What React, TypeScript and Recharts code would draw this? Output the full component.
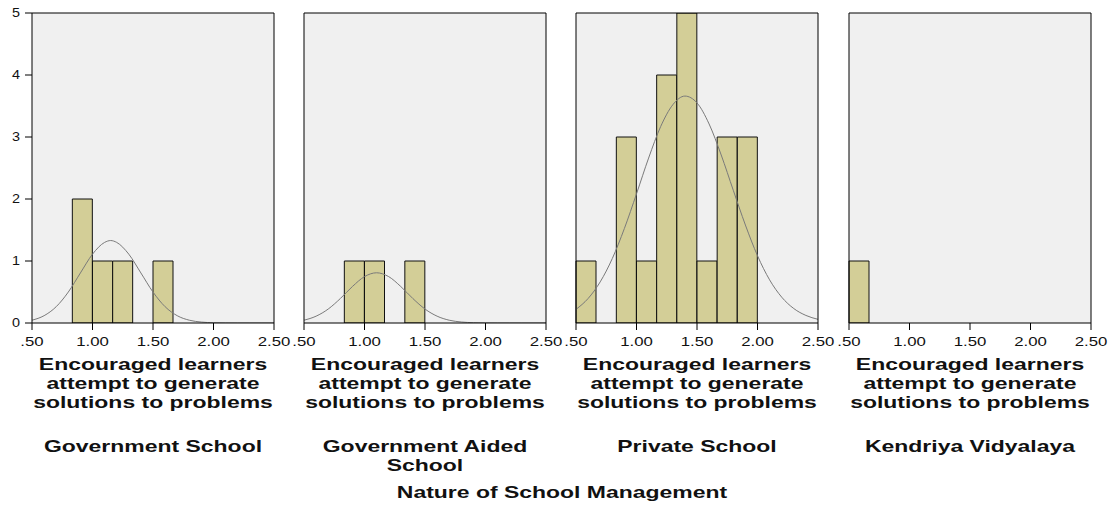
import React from "react";
import { ComposedChart, Bar, Line, XAxis, YAxis, CartesianGrid } from "recharts";

// ---- Data ----
const binLabels = [
  ".50-.67", ".67-.83", ".83-1.00", "1.00-1.17", "1.17-1.33", "1.33-1.50",
  "1.50-1.67", "1.67-1.83", "1.83-2.00", "2.00-2.17", "2.17-2.33", "2.33-2.50",
];
const govCounts = [0, 0, 2, 1, 1, 0, 1, 0, 0, 0, 0, 0];
const aidedCounts = [0, 0, 1, 1, 0, 1, 0, 0, 0, 0, 0, 0];
const privateCounts = [1, 0, 3, 1, 4, 5, 1, 3, 3, 0, 0, 0];
const kvCounts = [1, 0, 0, 0, 0, 0, 0, 0, 0, 0, 0, 0];

// normal curves
const govCurveX = [0.5, 0.6, 0.7, 0.8, 0.9, 1.0, 1.1, 1.15, 1.2, 1.3, 1.4, 1.5, 1.6, 1.7, 1.8, 1.9, 2.0, 2.1, 2.2, 2.3, 2.4, 2.5];
const govCurve = [0.045, 0.118, 0.263, 0.499, 0.807, 1.11, 1.3, 1.33, 1.3, 1.11, 0.807, 0.499, 0.263, 0.118, 0.045, 0.015, 0.004, 0.001, 0, 0, 0, 0];
const aidedCurveX = [0.5, 0.6, 0.7, 0.8, 0.9, 1.0, 1.1, 1.2, 1.3, 1.4, 1.5, 1.6, 1.7, 1.8, 1.9, 2.0, 2.1, 2.2, 2.3, 2.4, 2.5];
const aidedCurve = [0.045, 0.11, 0.225, 0.394, 0.588, 0.748, 0.81, 0.748, 0.588, 0.394, 0.225, 0.11, 0.045, 0.016, 0.005, 0.001, 0, 0, 0, 0, 0];
const privateCurveX = [0.5, 0.6, 0.7, 0.8, 0.9, 1.0, 1.1, 1.2, 1.3, 1.4, 1.5, 1.6, 1.7, 1.8, 1.9, 2.0, 2.1, 2.2, 2.3, 2.4, 2.5];
const privateCurve = [0.22, 0.395, 0.663, 1.04, 1.525, 2.083, 2.66, 3.17, 3.52, 3.66, 3.55, 3.21, 2.71, 2.14, 1.58, 1.085, 0.696, 0.417, 0.233, 0.122, 0.059];

const xTicks = [0.5, 1.0, 1.5, 2.0, 2.5];
const yTicks = [0, 1, 2, 3, 4, 5];

const titleLines = "Encouraged learners\nattempt to generate\nsolutions to problems";
const groupNames = ["Government School", "Government Aided\nSchool", "Private School", "Kendriya Vidyalaya"];
const outerTitle = "Nature of School Management";

const panels = [
  { counts: govCounts, cx: govCurveX, curve: govCurve as number[] | null, showY: true },
  { counts: aidedCounts, cx: aidedCurveX, curve: aidedCurve as number[] | null, showY: false },
  { counts: privateCounts, cx: privateCurveX, curve: privateCurve as number[] | null, showY: false },
  { counts: kvCounts, cx: [] as number[], curve: null as number[] | null, showY: false },
];

// ---- Layout ----
const plotLefts = [32, 304, 576, 849];
const plotW = 242;
const yAxisW = 32;
const rightPad = 22;
const FONT = "'Liberation Sans', Arial, sans-serif";

const fmtX = (v: number) => {
  const s = v.toFixed(2);
  return s.startsWith("0") ? s.slice(1) : s;
};

const XTick = (props: any) => {
  const { x, y, payload } = props;
  return (
    <text
      transform={`translate(${x},${y + 14}) scale(1.4,1)`}
      textAnchor="middle"
      fontSize={12}
      fontFamily={FONT}
      fill="#111"
    >
      {fmtX(payload.value)}
    </text>
  );
};

const YTick = (props: any) => {
  const { x, y, payload } = props;
  return (
    <text
      transform={`translate(${x},${y + 4}) scale(1.2,1)`}
      textAnchor="end"
      fontSize={12}
      fontFamily={FONT}
      fill="#111"
    >
      {payload.value}
    </text>
  );
};

const Panel = ({ counts, cx, curve, showY }: { counts: number[]; cx: number[]; curve: number[] | null; showY: boolean }) => {
  const data = binLabels.map((b, i) => ({ bin: b, count: counts[i] }));
  const curveData = curve ? cx.map((x, i) => ({ x, y: curve[i] })) : [];
  return (
    <ComposedChart
      width={yAxisW + plotW + 1 + rightPad}
      height={360}
      data={data}
      margin={{ top: 12, right: rightPad, bottom: 0, left: 0 }}
      barCategoryGap={0}
      barGap={0}
    >
      <CartesianGrid fill="#f0f0f0" horizontal={false} vertical={false} />
      <XAxis
        xAxisId={0}
        type="number"
        dataKey="x"
        domain={[0.5, 2.5]}
        ticks={xTicks}
        interval={0}
        allowDataOverflow
        tick={<XTick />}
        tickSize={7}
        tickMargin={2}
        tickLine={{ stroke: "#000" }}
        axisLine={{ stroke: "#000" }}
        height={37}
      />
      <XAxis
        xAxisId="bin"
        type="category"
        dataKey="bin"
        orientation="top"
        tick={false}
        tickLine={false}
        axisLine={{ stroke: "#000" }}
        height={1}
      />
      <YAxis
        yAxisId={0}
        type="number"
        domain={[0, 5]}
        ticks={yTicks}
        interval={0}
        allowDataOverflow
        width={yAxisW}
        tick={showY ? <YTick /> : false}
        tickLine={showY ? { stroke: "#000" } : false}
        tickSize={7}
        tickMargin={5}
        axisLine={{ stroke: "#000" }}
      />
      <YAxis
        yAxisId="r"
        orientation="right"
        type="number"
        domain={[0, 5]}
        tick={false}
        tickLine={false}
        axisLine={{ stroke: "#000" }}
        width={1}
      />
      <Bar
        xAxisId="bin"
        yAxisId={0}
        dataKey="count"
        fill="#d3ce97"
        stroke="#111"
        strokeWidth={1}
        isAnimationActive={false}
      />
      {curve && (
        <Line
          xAxisId={0}
          yAxisId={0}
          data={curveData}
          dataKey="y"
          type="monotone"
          dot={false}
          activeDot={false}
          stroke="#7a7a7a"
          strokeWidth={1}
          isAnimationActive={false}
        />
      )}
    </ComposedChart>
  );
};

const textStyle = (center: number, top: number): React.CSSProperties => ({
  position: "absolute",
  left: center,
  top,
  transform: "translateX(-50%) scaleX(1.35)",
  fontFamily: FONT,
  fontWeight: "bold",
  fontSize: 17,
  lineHeight: "19px",
  whiteSpace: "pre",
  textAlign: "center",
  color: "#111",
});

export default function App() {
  return (
    <div style={{ position: "absolute", left: 0, top: 0, width: 1113, height: 506, background: "#fff", overflow: "hidden" }}>
      {panels.map((p, i) => (
        <div key={i} style={{ position: "absolute", left: plotLefts[i] - yAxisW, top: 0 }}>
          <Panel counts={p.counts} cx={p.cx} curve={p.curve} showY={p.showY} />
        </div>
      ))}
      {plotLefts.map((l, i) => (
        <div key={"t" + i} style={textStyle(l + plotW / 2, 355)}>{titleLines}</div>
      ))}
      {plotLefts.map((l, i) => (
        <div key={"g" + i} style={textStyle(l + plotW / 2, 437)}>{groupNames[i]}</div>
      ))}
      <div style={textStyle(562, 483)}>{outerTitle}</div>
    </div>
  );
}
